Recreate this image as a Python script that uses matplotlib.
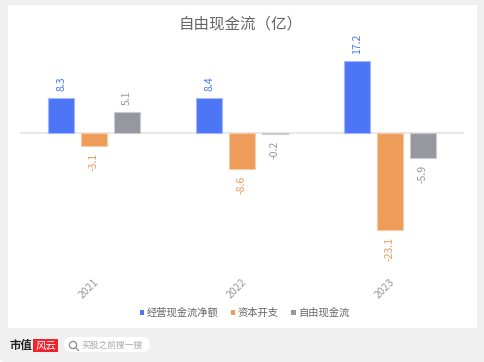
#!/usr/bin/env python3
"""Free cash flow bar chart with the page frame around it."""

import matplotlib

matplotlib.use("Agg")
import matplotlib.pyplot as plt
import numpy as np
from matplotlib.patches import Circle, FancyBboxPatch, Rectangle
from matplotlib.transforms import ScaledTranslation

plt.rcParams["font.family"] = ["Noto Sans CJK SC", "DejaVu Sans"]

years = ["2021", "2022", "2023"]
operating_cf = [8.3, 8.4, 17.2]
capex = [-3.1, -8.6, -23.1]
free_cf = [5.1, -0.2, -5.9]
series_names = ["经营现金流净额", "资本开支", "自由现金流"]
colors = ["#4d76f7", "#ed9c59", "#97979f"]
edges = ["#a3b8fa", "#f6cdab", "#cbcbcf"]

W, H = 485, 362
PX_PER_UNIT = 4.2
BASE_Y = 133
AX_LEFT, AX_RIGHT, AX_TOP, AX_BOTTOM = 20, 464, 40, 272

fig = plt.figure(figsize=(W / 100, H / 100), dpi=100, facecolor="white")

# page frame, in pixel coordinates
bg = fig.add_axes([0, 0, 1, 1])
bg.set_xlim(0, W)
bg.set_ylim(H, 0)
bg.axis("off")
bg.add_patch(FancyBboxPatch((0, -20), W + 20, H + 20, boxstyle="round,pad=0,rounding_size=5",
                            fc="#f0f0f0", ec="none"))
bg.add_patch(Rectangle((8, 5), 469, 323, fc="white", ec="none"))
bg.add_patch(FancyBboxPatch((64, 337), 86, 15, boxstyle="round,pad=0,rounding_size=7.5", fc="white", ec="none"))
bg.add_patch(Circle((73, 345), 3.6, fc="none", ec="#8a8a8a", lw=0.9))
bg.plot([75.6, 78.5], [347.6, 350.5], color="#8a8a8a", lw=0.9)
bg.text(82, 345, "买股之前搜一搜", fontsize=6.3, color="#a8a8a8", va="center", ha="left")
bg.text(10, 345.5, "市值", fontsize=8.2, color="#222222", weight="bold", va="center", ha="left")
bg.add_patch(Rectangle((33.5, 339), 25, 13, fc="#f0242c", ec="none"))
bg.text(46, 345.5, "风云", fontsize=7.5, color="white", style="italic", va="center", ha="center")
bg.text(240.5, 24.5, "自由现金流（亿）", fontsize=11.2, color="#666666", va="center", ha="center")

ax = fig.add_axes([AX_LEFT / W, 1 - AX_BOTTOM / H, (AX_RIGHT - AX_LEFT) / W, (AX_BOTTOM - AX_TOP) / H])
ax.patch.set_alpha(0)
x = np.arange(len(years))
bar_w = 0.175
step = 0.222
for i, (values, name) in enumerate(zip([operating_cf, capex, free_cf], series_names)):
    bars = ax.bar(x + (i - 1) * step, values, bar_w, color=colors[i], edgecolor=edges[i], linewidth=0.8,
                  label=name, zorder=3)
    for rect, val in zip(bars, values):
        ax.annotate(f"{val:.1f}", (rect.get_x() + rect.get_width() / 2, val),
                    xytext=(0, 5 if val >= 0 else -5), textcoords="offset points",
                    ha="center", va="bottom" if val >= 0 else "top", rotation=90,
                    fontsize=7.6, color=colors[i])

ax.axhline(0, color="#e8e8e8", lw=1.5, zorder=2)
ax.set_xlim(-0.5, 2.5)
ax.set_ylim((BASE_Y - AX_BOTTOM) / PX_PER_UNIT, (BASE_Y - AX_TOP) / PX_PER_UNIT)
ax.set_yticks([])
ax.set_xticks(x)
ax.set_xticklabels(years, rotation=45, ha="right", rotation_mode="anchor", fontsize=7.5, color="#999999")
ax.tick_params(axis="x", length=0, pad=3.5)
nudge = ScaledTranslation(-1 / 100, 0, fig.dpi_scale_trans)
for label in ax.get_xticklabels():
    label.set_transform(label.get_transform() + nudge)
for spine in ax.spines.values():
    spine.set_visible(False)

leg = fig.legend(loc="center", bbox_to_anchor=(244.5 / W, 1 - 313 / H), ncol=3, frameon=False, fontsize=7.4,
                 handlelength=0.45, handleheight=0.45, handletextpad=0.22, columnspacing=1.2, labelcolor="#666666")
for handle in leg.legend_handles:
    handle.set_edgecolor("none")

fig.savefig("out.png", dpi=100)
plt.close(fig)
